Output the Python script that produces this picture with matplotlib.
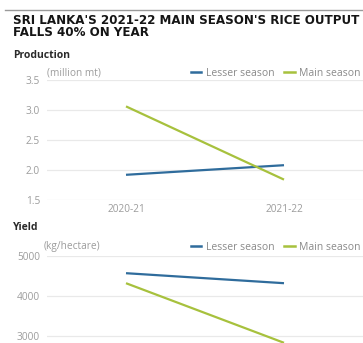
import matplotlib
matplotlib.use("Agg")
import matplotlib.pyplot as plt
from matplotlib.lines import Line2D

# Data
seasons = ["2020-21", "2021-22"]
production_lesser = [1.92, 2.08]   # million mt
production_main = [3.06, 1.84]     # million mt
yield_lesser = [4570, 4320]        # kg/hectare
yield_main = [4320, 2830]          # kg/hectare

prod_ticks = [1.5, 2.0, 2.5, 3.0, 3.5]
yield_ticks = [3000, 4000, 5000]

BLUE = "#2f6c9c"
GREEN = "#a7c13d"
GRID = "#e9e9e9"
TICK = "#9c9c9c"
LEG = "#8a8a8a"

W, H = 363, 343
fig = plt.figure(figsize=(W / 100, H / 100), dpi=100)
fig.patch.set_facecolor("white")


def fx(px):
    return px / W


def fy(py):
    return 1 - py / H


tick_font = "Open Sans"


def style_axes(ax, ticks, fmt):
    ax.set_yticks(ticks)
    ax.set_yticklabels([fmt(t) for t in ticks])
    for s in ax.spines.values():
        s.set_visible(False)
    ax.grid(axis="y", color=GRID, linewidth=0.9)
    ax.grid(axis="x", visible=False)
    ax.set_axisbelow(True)
    ax.tick_params(axis="both", length=0, labelsize=7.3, labelcolor=TICK, pad=5)
    for lab in ax.get_yticklabels() + ax.get_xticklabels():
        lab.set_fontfamily(tick_font)
    ax.set_xlim(-0.5, 1.5)


left_px, right_px = 47, 363

# Production panel: 3.5 at y=80px, 1.5 at y=200px
ax1 = fig.add_axes([fx(left_px), fy(200), fx(right_px - left_px), (200 - 80) / H])
x = list(range(len(seasons)))
ax1.plot(x, production_lesser, color=BLUE, lw=1.6, solid_capstyle="butt")
ax1.plot(x, production_main, color=GREEN, lw=1.6, solid_capstyle="butt")
ax1.set_ylim(1.5, 3.5)
style_axes(ax1, prod_ticks, lambda t: f"{t:.1f}")
ax1.set_xticks(x)
ax1.set_xticklabels(seasons)
for lab in ax1.get_xticklabels():
    lab.set_fontfamily(tick_font)
ax1.tick_params(axis="x", pad=3)

# Yield panel: 5000 at y=256px, 3000 at y=336px
ax2 = fig.add_axes([fx(left_px), fy(356), fx(right_px - left_px), (356 - 256) / H])
ax2.plot(x, yield_lesser, color=BLUE, lw=1.6, solid_capstyle="butt")
ax2.plot(x, yield_main, color=GREEN, lw=1.6, solid_capstyle="butt")
ax2.set_ylim(2500, 5000)
style_axes(ax2, yield_ticks, lambda t: f"{t:d}")
ax2.set_xticks([])

# Top rule
fig.add_artist(Line2D([fx(5), 1.0], [fy(10), fy(10)], color="#9a9a9a", lw=1.0))

# Title, fitted to width
title_lines = ["SRI LANKA'S 2021-22 MAIN SEASON'S RICE OUTPUT", "FALLS 40% ON YEAR"]
t1 = fig.text(fx(13), fy(20), title_lines[0], fontsize=11, fontweight="bold",
              family="Liberation Sans Narrow", color="#151515", va="center", ha="left")
t2 = fig.text(fx(13), fy(33), title_lines[1], fontsize=11, fontweight="bold",
              family="Liberation Sans Narrow", color="#151515", va="center", ha="left")
fig.canvas.draw()
r = fig.canvas.get_renderer()
w = t1.get_window_extent(r).width
scale = (360 - 13) / w
for t in (t1, t2):
    t.set_fontsize(11 * scale)

# Section headers
fig.text(fx(13), fy(56), "Production", fontsize=7.5, fontweight="bold",
         family="Open Sans", color="#2a2a2a", va="center", ha="left")
fig.text(fx(13), fy(227), "Yield", fontsize=7.5, fontweight="bold",
         family="Open Sans", color="#2a2a2a", va="center", ha="left")

# Units
fig.text(fx(47), fy(73), "(million mt)", fontsize=7.3, family=tick_font,
         color=TICK, va="center", ha="left")
fig.text(fx(44), fy(246), "(kg/hectare)", fontsize=7.3, family=tick_font,
         color=TICK, va="center", ha="left")

# Legends
handles = [Line2D([], [], color=BLUE, lw=1.8), Line2D([], [], color=GREEN, lw=1.8)]
names = ["Lesser season", "Main season"]
for ypx in (73, 247):
    fig.legend(handles, names, loc="center left", bbox_to_anchor=(fx(191), fy(ypx)),
               ncol=2, frameon=False, handlelength=1.0,
               handletextpad=0.45, columnspacing=0.9, borderpad=0, borderaxespad=0,
               labelcolor=LEG, prop={"family": tick_font, "size": 7.5})

fig.savefig("out.png", dpi=100)
